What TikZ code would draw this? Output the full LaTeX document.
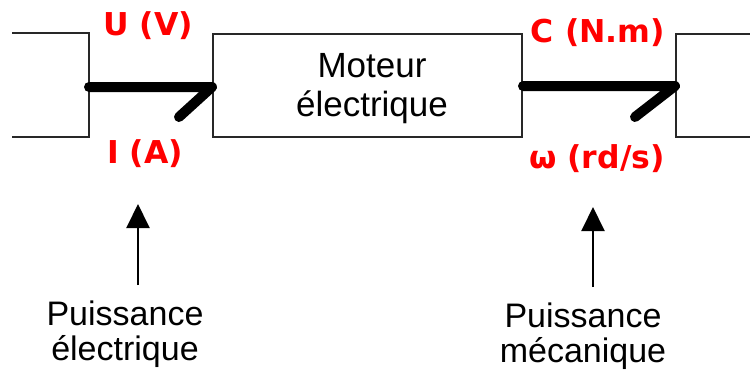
\documentclass[tikz,border=0pt]{standalone}
\usepackage{fontspec}
\setmainfont{Liberation Sans}
\newfontfamily\labfont{DejaVu Sans}
\usetikzlibrary{arrows.meta}
\definecolor{lblred}{RGB}{255,0,0}
\definecolor{linegray}{RGB}{40,40,40}
\begin{document}
\begin{tikzpicture}[x=1pt,y=-1pt,
 blk/.style={draw=linegray,line width=2pt},
 lbl/.style={text=lblred,font=\labfont\bfseries\fontsize{31.5}{36}\selectfont,inner sep=0pt,anchor=base},
 txt/.style={font=\fontsize{35}{39}\selectfont,align=center,inner sep=0pt,anchor=base},
 txtb/.style={font=\fontsize{34}{35}\selectfont,align=center,inner sep=0pt,anchor=base},
 flow/.style={line width=10pt,line cap=round,line join=round},
 up/.style={line width=2pt,-{Triangle[width=23pt,length=24pt]}}]
\useasboundingbox (0,0) rectangle (750,376);
% partial boxes
\draw[blk] (12,33) -- (89,33) -- (89,137) -- (12,137);
\draw[blk] (752,34) -- (676,34) -- (676,137) -- (752,137);
% motor box
\node[blk,minimum width=309pt,minimum height=103pt,inner sep=0pt] (mot) at (367.5,85.5) {};
\node[txt] (mtxt) at (372,116) {Moteur\\électrique};
% flows
\coordinate (inL) at (89,87);
\coordinate (outR) at (675,86);
\draw[flow] (inL) -- (inL -| mot.west) -- ++(-33,30);
\draw[flow] (mot.east |- outR) -- (outR) -- ++(-40,31);
% labels
\node[lbl] (U) at (148,35) {U (V)};
\node[lbl] (I) at (145,163) {I (A)};
\node[lbl] (C) at (598,42) {C (N.m)};
\node[lbl] (w) at (597,168) {ω (rd/s)};
% bottom
\node[txtb] (pe) at (125,360) {Puissance\\électrique};
\node[txtb] (pm) at (583,362) {Puissance\\mécanique};
\coordinate (a1b) at (138,285);
\coordinate (a1t) at (138,204);
\coordinate (a2b) at (593,287);
\coordinate (a2t) at (593,207);
\draw[up] (a1b) -- (a1t);
\draw[up] (a2b) -- (a2t);
\end{tikzpicture}
\end{document}
